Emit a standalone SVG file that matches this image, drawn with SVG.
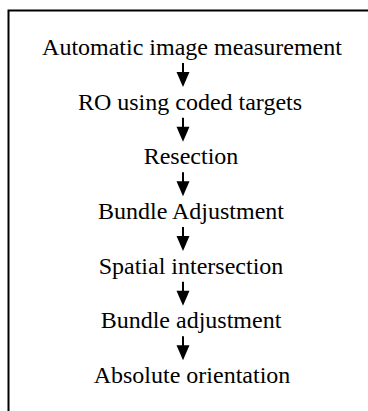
<svg xmlns="http://www.w3.org/2000/svg" width="368" height="411" viewBox="0 0 368 411">
<style>
.t{font-size:24px;fill:#000;text-anchor:middle}
.sh{stroke:#000;stroke-width:2;fill:none}
.hd{fill:#000;stroke:none}
</style>
<defs>
<g id="arr">
<line class="sh" x1="183" y1="0" x2="183" y2="10"/>
<polygon class="hd" points="176.5,9 189.5,9 183,24"/>
</g>
</defs>
<rect width="368" height="411" fill="#fff"/>
<path d="M8.5,411 V10.5 H368" fill="none" stroke="#000" stroke-width="2"/>
<g id="connectors">
<use href="#arr" y="63"/>
<use href="#arr" y="117.7"/>
<use href="#arr" y="172.3"/>
<use href="#arr" y="227"/>
<use href="#arr" y="281.7"/>
<use href="#arr" y="336.3"/>
</g>
<g font-family="'Liberation Serif', 'Times New Roman', 'DejaVu Serif', serif">
<g id="n1"><text class="t" x="192" y="55">Automatic image measurement</text></g>
<g id="n2"><text class="t" x="190" y="109.7">RO using coded targets</text></g>
<g id="n3"><text class="t" x="191" y="164.3">Resection</text></g>
<g id="n4"><text class="t" x="191" y="219">Bundle Adjustment</text></g>
<g id="n5"><text class="t" x="191" y="273.7">Spatial intersection</text></g>
<g id="n6"><text class="t" x="191" y="328.3">Bundle adjustment</text></g>
<g id="n7"><text class="t" x="192" y="383">Absolute orientation</text></g>
</g>
</svg>
